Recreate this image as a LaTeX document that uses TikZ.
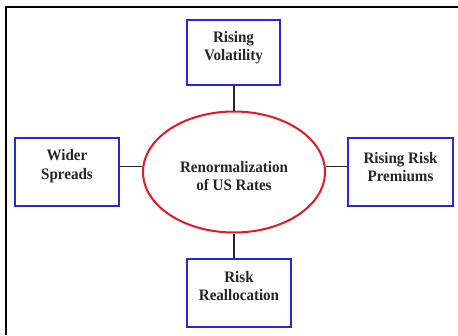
\documentclass[tikz,border=0pt]{standalone}
\usepackage{fontspec}
\setmainfont{Liberation Serif}[FakeStretch=0.94]
\usetikzlibrary{shapes.geometric}

\definecolor{boxblue}{RGB}{40,40,215}
\definecolor{ringred}{RGB}{225,25,35}

\tikzset{
    factor/.style={draw=boxblue, line width=1.6pt, fill=white, inner sep=0pt},
    factortext/.style={align=center, font=\fontsize{16}{18.5}\selectfont\bfseries, text=black!85},
    link/.style={draw=black!85, line width=1.8pt}
}

\begin{document}
\begin{tikzpicture}[x=1pt, y=-1pt]
        \useasboundingbox (0,0) rectangle (458,335);

        % frame (only top and left edge in view)
        \draw[line width=2.5pt] (6,335) -- (6,7) -- (458,7);

        \node[ellipse, draw=ringred, line width=2pt, minimum width=182pt, minimum height=121pt, inner sep=0pt] (core) at (234,172) {};
        \node[factortext] (coretext) at (234,176) {Renormalization\\of US Rates};

        \node[factor, minimum width=93pt, minimum height=65pt] (vol) at (233.5,52.5) {};
        \node[factortext] (voltext) at (233.5,47.5) {Rising\\Volatility};

        \node[factor, minimum width=104pt, minimum height=68pt] (spread) at (67,172) {};
        \node[factortext] (spreadtext) at (67,166) {Wider\\Spreads};

        \node[factor, minimum width=105pt, minimum height=68pt] (prem) at (400.5,172) {};
        \node[factortext] (premtext) at (400.5,167) {Rising Risk\\Premiums};

        \node[factor, minimum width=104pt, minimum height=68pt] (realloc) at (239,293) {};
        \node[factortext] (realloctext) at (239,286) {Risk\\Reallocation};

        \draw[link] (vol.south -| core.north) -- (core.north);
        \draw[link] (core.south) -- (core.south |- realloc.north);
        \draw[link] (spread.east |- 0,166.5) -- (core.west |- 0,166.5);
        \draw[link] (prem.west |- 0,166.5) -- (core.east |- 0,166.5);
    \end{tikzpicture}
\end{document}
